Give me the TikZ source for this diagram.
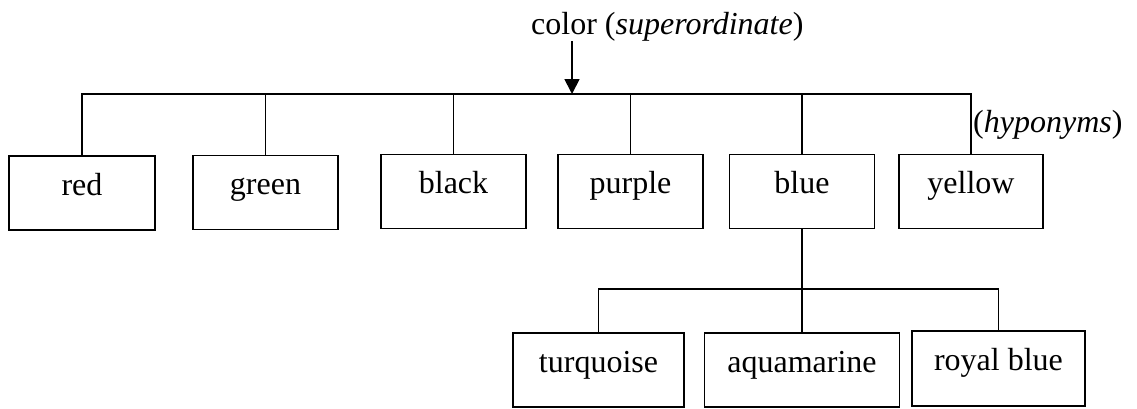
\documentclass[tikz,border=0pt]{standalone}
\usepackage{fontspec}
\setmainfont{Liberation Serif}
\usetikzlibrary{arrows.meta}
\tikzset{
  box/.style={draw, line width=1.8pt, minimum height=74pt, inner sep=0pt,
    text height=14pt, text depth=10pt, font=\fontsize{32}{36}\selectfont},
  conn/.style={line width=1.7pt},
  lbl/.style={inner sep=0pt, font=\fontsize{32}{36}\selectfont},
  arr/.style={line width=1.8pt, -{Triangle[width=15pt,length=15pt]}}
}
\begin{document}
\begin{tikzpicture}[x=1pt,y=-1pt]
\useasboundingbox (0,0) rectangle (1137,408);
% top label
\node[lbl, anchor=base west] (super) at (531,34) {color (\textit{superordinate})};
\coordinate (hub) at (572,94);
% hyponyms
\node[box, minimum width=146pt] (red)    at (82,193)    {red};
\node[box, minimum width=145pt] (green)  at (265.5,192.5) {green};
\node[box, minimum width=145pt] (black)  at (453.5,191.5) {black};
\node[box, minimum width=145pt] (purple) at (630.5,191.5) {purple};
\node[box, minimum width=145pt] (blue)   at (802,191.5)   {blue};
\node[box, minimum width=144pt] (yellow) at (971,191.5)   {yellow};
\node[lbl, anchor=base west] (hypo) at (973,132) {(\textit{hyponyms})};
% sub-hyponyms
\node[box, minimum width=171pt] (turq)  at (598.5,370) {turquoise};
\node[box, minimum width=195pt] (aqua)  at (802,370)   {aquamarine};
\node[box, minimum width=173pt, minimum height=75pt] (royal) at (998.5,368.5) {royal blue};
\coordinate (sub) at (802,289);
% connectors
\draw[arr] (super.south -| hub) -- (hub);
\draw[conn] (red.north) -- (red.north |- hub) -- (yellow.north |- hub) -- (yellow.north);
\foreach \n in {green,black,purple,blue}
  \draw[conn] (\n.north) -- (\n.north |- hub);
\draw[conn] (blue.south) -- (aqua.north);
\draw[conn] (turq.north) -- (turq.north |- sub) -- (royal.north |- sub) -- (royal.north);
\end{tikzpicture}
\end{document}
